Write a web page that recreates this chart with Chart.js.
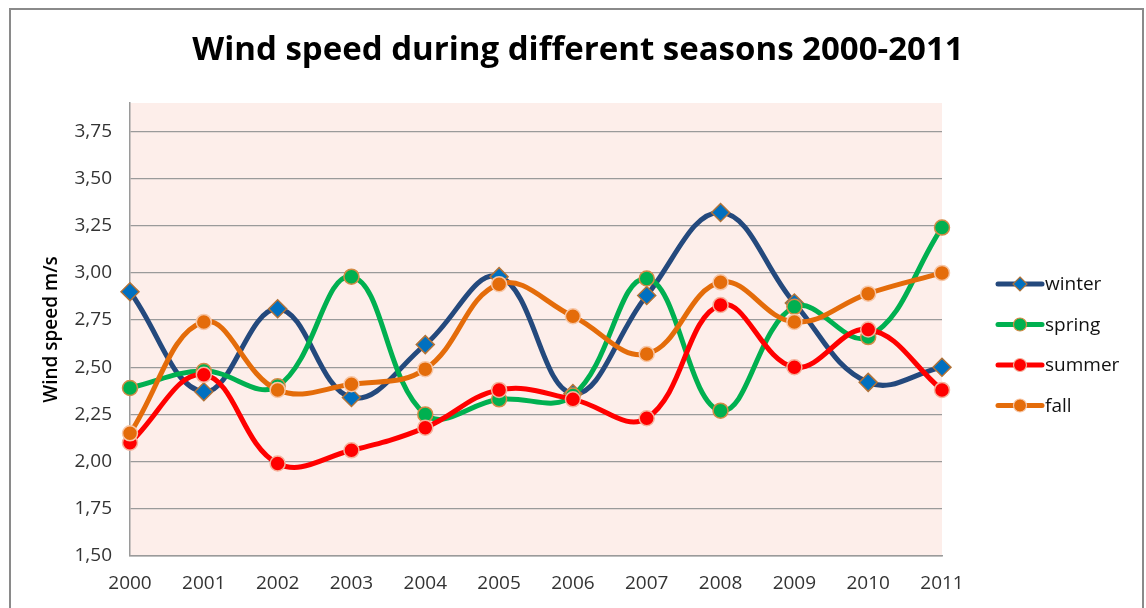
<!DOCTYPE html>
<html>
<head>
<meta charset="utf-8">
<script src="https://cdn.jsdelivr.net/npm/chart.js@4"></script>
<style>
    body { margin: 0; background: #fff; overflow: hidden; }
    #frame { position: absolute; left: 9px; top: 8px; width: 1135px; height: 660px; border: 2px solid #8a8a8a; box-sizing: border-box; }
    #wrap { position: absolute; left: 0; top: 0; width: 1146px; height: 608px; }
</style>
</head>
<body>
<div id="frame"></div>
<div id="wrap"><canvas id="myChart" width="1146" height="608"></canvas></div>
<script>
// Data
const years = ["2000", "2001", "2002", "2003", "2004", "2005", "2006", "2007", "2008", "2009", "2010", "2011"];
const winter = [2.90, 2.37, 2.81, 2.34, 2.62, 2.98, 2.36, 2.88, 3.32, 2.84, 2.42, 2.50];
const spring = [2.39, 2.48, 2.40, 2.98, 2.25, 2.33, 2.35, 2.97, 2.27, 2.82, 2.66, 3.24];
const summer = [2.10, 2.46, 1.99, 2.06, 2.18, 2.38, 2.33, 2.23, 2.83, 2.50, 2.70, 2.38];
const fall = [2.15, 2.74, 2.38, 2.41, 2.49, 2.94, 2.77, 2.57, 2.95, 2.74, 2.89, 3.00];
const seasonNames = ["winter", "spring", "summer", "fall"];
const yMin = 1.5;
const yMax = 3.9;
const yStep = 0.25;

const chartTitle = "Wind speed during different seasons 2000-2011";
const yTitle = "Wind speed m/s";
const baseFont = '"Open Sans", "Noto Sans", sans-serif';

// plot background, title and the legend (line + marker like the original)
const decor = {
    id: 'decor',
    beforeDraw(chart) {
        const { ctx, chartArea: a } = chart;
        ctx.save();
        ctx.fillStyle = '#FDEEEA';
        ctx.fillRect(a.left, a.top, a.right - a.left, a.bottom - a.top);
        ctx.restore();
    },
    afterDraw(chart) {
        const ctx = chart.ctx;
        ctx.save();
        ctx.fillStyle = '#000';
        ctx.font = 'bold 33px ' + baseFont;
        ctx.textAlign = 'center';
        ctx.textBaseline = 'middle';
        ctx.fillText(chartTitle, 578, 51);

        chart.data.datasets.forEach((ds, i) => {
            const y = 284 + i * 40.5;
            ctx.strokeStyle = ds.borderColor;
            ctx.lineWidth = 5;
            ctx.lineCap = 'round';
            ctx.beginPath();
            ctx.moveTo(998, y);
            ctx.lineTo(1042, y);
            ctx.stroke();
            ctx.fillStyle = ds.pointBackgroundColor;
            ctx.strokeStyle = ds.pointBorderColor;
            ctx.lineWidth = 1.2;
            ctx.beginPath();
            if (ds.pointStyle === 'rectRot') {
                const r = 7;
                ctx.moveTo(1020, y - r);
                ctx.lineTo(1020 + r, y);
                ctx.lineTo(1020, y + r);
                ctx.lineTo(1020 - r, y);
                ctx.closePath();
            } else {
                ctx.arc(1020, y, 6.5, 0, Math.PI * 2);
            }
            ctx.fill();
            ctx.stroke();
            ctx.fillStyle = '#111';
            ctx.font = '19px ' + baseFont;
            ctx.textAlign = 'left';
            ctx.fillText(ds.label, 1045, y + 1);
        });
        ctx.restore();
    }
};

const ctx1 = document.getElementById('myChart').getContext('2d');

function series(label, data, line, fill, edge, style, order) {
    return {
        label: label,
        data: data,
        borderColor: line,
        borderWidth: 5,
        pointBackgroundColor: fill,
        pointBorderColor: edge,
        pointBorderWidth: 1.5,
        pointStyle: style,
        pointRadius: style === 'rectRot' ? 9 : 7.5,
        pointHoverRadius: 8,
        tension: 0.4,
        order: order
    };
}

let chart = new Chart(ctx1, {
    type: 'line',
    data: {
        labels: years,
        datasets: [
            series(seasonNames[0], winter, '#24497D', '#0070C0', '#B07238', 'rectRot', 3),
            series(seasonNames[1], spring, '#00B050', '#00B050', '#D28B45', 'circle', 2),
            series(seasonNames[2], summer, '#FF0000', '#FF0000', '#F5B29C', 'circle', 1),
            series(seasonNames[3], fall, '#E46C0A', '#E46C0A', '#F7C6A6', 'circle', 0)
        ]
    },
    options: {
        responsive: false,
        animation: false,
        layout: { padding: { left: 10, right: 204, top: 103, bottom: 0 } },
        plugins: {
            legend: { display: false },
            title: { display: false },
            tooltip: { enabled: false }
        },
        scales: {
            x: {
                offset: false,
                grid: { display: false, drawTicks: false },
                border: { display: true, color: '#9a9a9a', width: 1.5 },
                ticks: { color: '#333', font: { family: baseFont, size: 19 }, padding: 16, maxRotation: 0 },
                afterFit: (s) => { s.height = 52; }
            },
            y: {
                min: yMin,
                max: yMax,
                ticks: {
                    stepSize: yStep,
                    color: '#333',
                    font: { family: baseFont, size: 19 },
                    padding: 18,
                    callback: (v) => Number(v).toFixed(2).replace('.', ',')
                },
                grid: { color: '#9a9a9a', lineWidth: 1.3, drawTicks: false },
                border: { display: true, color: '#9a9a9a', width: 1.5 },
                title: {
                    display: true,
                    text: yTitle,
                    color: '#000',
                    font: { family: baseFont, size: 19, weight: '600' },
                    padding: { top: 30, bottom: 0 }
                },
                afterBuildTicks: (s) => {
                    s.ticks = s.ticks.filter(t => Math.abs(t.value / yStep - Math.round(t.value / yStep)) < 1e-6);
                },
                afterFit: (s) => { s.width = 120; }
            }
        }
    },
    plugins: [decor]
});
</script>
</body>
</html>
